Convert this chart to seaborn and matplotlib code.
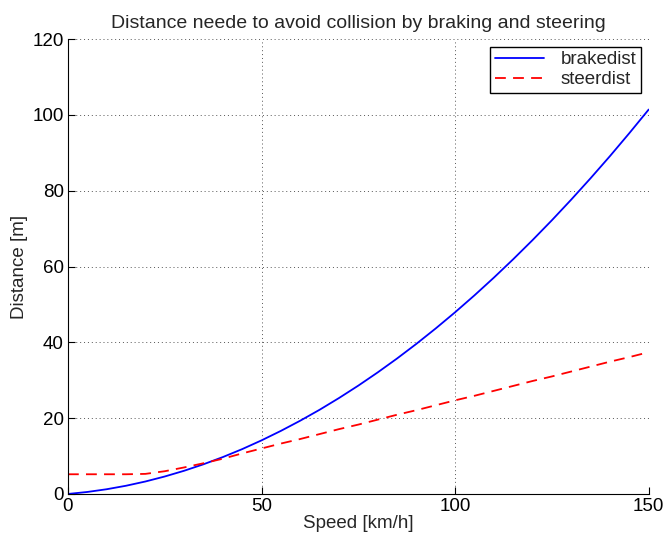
import matplotlib
matplotlib.use("Agg")
import matplotlib.pyplot as plt
import seaborn as sns
import pandas as pd

speed = [0, 5, 10, 15, 20, 25, 30, 35, 40, 45, 50, 55, 60, 65, 70, 75,
         80, 85, 90, 95, 100, 105, 110, 115, 120, 125, 130, 135, 140, 145, 150]
brakedist = [0.0, 0.53, 1.25, 2.17, 3.29, 4.61, 6.12, 7.83, 9.73, 11.83, 14.14,
             16.64, 19.33, 22.21, 25.30, 28.58, 32.06, 35.73, 39.60, 43.67, 47.93,
             52.39, 57.05, 61.91, 66.96, 72.20, 77.65, 83.29, 89.12, 95.17, 101.40]
steerdist = [5.2, 5.2, 5.2, 5.2, 5.3, 6.0, 7.0, 8.1, 9.3, 10.7, 12.0, 13.3, 14.5,
             15.8, 17.1, 18.3, 19.6, 20.9, 22.1, 23.4, 24.7, 25.9, 27.2, 28.5,
             29.8, 31.0, 32.3, 33.6, 34.9, 36.1, 37.4]
xticks = [0, 50, 100, 150]
yticks = [0, 20, 40, 60, 80, 100, 120]

sns.set_theme(style="white")
plt.rcParams['font.family'] = ['Liberation Sans', 'DejaVu Sans']

df = pd.DataFrame({"speed": speed, "brakedist": brakedist, "steerdist": steerdist})

fig = plt.figure(figsize=(6.66, 5.42), dpi=100)
ax = fig.add_axes([0.102, 0.0886, 0.872, 0.8394])

sns.lineplot(data=df, x="speed", y="brakedist", ax=ax, color="#0000ff",
             linewidth=1.3, label="brakedist")
sns.lineplot(data=df, x="speed", y="steerdist", ax=ax, color="#ff0000",
             linewidth=1.3, label="steerdist", dashes=False)
ax.lines[1].set_dashes([6, 4])

ax.set_xlim(0, 150)
ax.set_ylim(0, 120)
ax.set_xticks(xticks)
ax.set_yticks(yticks)
ax.tick_params(direction="in", length=5, labelsize=13.5, colors="black",
               left=True, bottom=True, width=0.8, pad=3)
ax.grid(True, linestyle=(0, (1, 3)), color="#555555", linewidth=0.7)
for s in ["top", "right"]:
    ax.spines[s].set_visible(False)
for s in ["left", "bottom"]:
    ax.spines[s].set_color("black")
    ax.spines[s].set_linewidth(0.8)

ax.set_xlabel("Speed [km/h]", fontsize=13.5, labelpad=0)
ax.set_ylabel("Distance [m]", fontsize=13.5, labelpad=3)
ax.set_title("Distance neede to avoid collision by braking and steering",
             fontsize=14, pad=8)

leg = ax.legend(loc="upper right", fontsize=13.5, frameon=True, fancybox=False,
                edgecolor="black", handlelength=2.6, handletextpad=0.9,
                borderpad=0.25, labelspacing=0.15, borderaxespad=0.4)
leg.get_frame().set_linewidth(1.0)
leg.get_frame().set_alpha(1)

fig.savefig("out.png", dpi=100)
